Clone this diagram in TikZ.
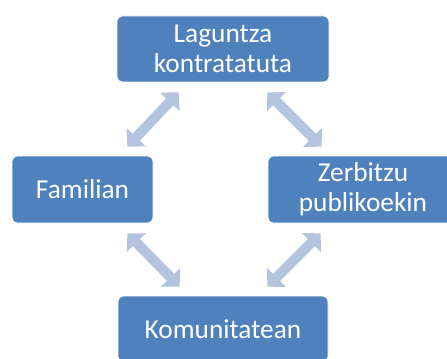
\documentclass[tikz,border=0pt]{standalone}
\usepackage{fontspec}
\setmainfont{Carlito}
\usetikzlibrary{arrows.meta}
\definecolor{boxblue}{RGB}{79,129,189}
\definecolor{arrowblue}{RGB}{180,196,223}
\begin{document}
\begin{tikzpicture}[x=0.75pt, y=0.75pt,
    box/.style={fill=boxblue, draw=white, line width=0.5pt, rounded corners=4pt,
        text=white, align=center, inner sep=0pt,
        font=\fontsize{20.5}{22.5}\selectfont},
    link/.style={draw=arrowblue, line width=7.5pt,
        {Triangle[width=19.5pt, length=9.75pt]}-{Triangle[width=19.5pt, length=9.75pt]}}]
    \useasboundingbox (0,0) rectangle (447,358);
    \node[box, minimum width=159pt, minimum height=49.5pt] (contract) at (223,309) {Laguntza\\kontratatuta};
    \node[box, minimum width=105.75pt, minimum height=50.25pt] (family) at (82.5,168.5) {Familian};
    \node[box, minimum width=142.5pt, minimum height=50.25pt] (public) at (363,168.5) {Zerbitzu\\publikoekin};
    \node[box, minimum width=157.5pt, minimum height=49.5pt] (community) at (223,29) {Komunitatean};
    \draw[link] ([shift={(-26,9)}]family.north east) -- ([shift={(62,-10)}]contract.south west);
    \draw[link] ([shift={(-62,-10)}]contract.south east) -- ([shift={(54,9)}]public.north west);
    \draw[link] ([shift={(-26,-10)}]family.south east) -- ([shift={(62,9)}]community.north west);
    \draw[link] ([shift={(53,-10)}]public.south west) -- ([shift={(-61,9)}]community.north east);
\end{tikzpicture}
\end{document}
